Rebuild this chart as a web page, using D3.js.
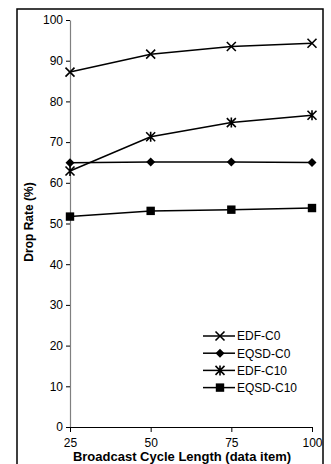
<!DOCTYPE html>
<html><head><meta charset="utf-8">
<script src="https://cdn.jsdelivr.net/npm/d3@7"></script>
<style>body{margin:0;background:#fff}svg{display:block}text{font-family:"Liberation Sans",Arial,sans-serif}</style>
</head><body>
<svg id="c" width="331" height="464"></svg>
<script>
const xValues = [25, 50, 75, 100];
const seriesNames = ["EDF-C0", "EQSD-C0", "EDF-C10", "EQSD-C10"];
const markerTypes = ["x", "diamond", "asterisk", "square"];
const edfC0 = [87.2, 91.6, 93.5, 94.3];
const eqsdC0 = [64.9, 65.1, 65.1, 65.0];
const edfC10 = [62.9, 71.3, 74.8, 76.6];
const eqsdC10 = [51.7, 53.1, 53.4, 53.8];
const yTicks = [0, 10, 20, 30, 40, 50, 60, 70, 80, 90, 100];
const xTitle = "Broadcast Cycle Length (data item)";
const yTitle = "Drop Rate (%)";

const series = [edfC0, eqsdC0, edfC10, eqsdC10].map((v, i) => ({name: seriesNames[i], marker: markerTypes[i], values: v}));

const svg = d3.select("#c");
// outer frame
svg.append("rect").attr("x", 17).attr("y", 9).attr("width", 306).attr("height", 470)
  .attr("fill", "none").attr("stroke", "#000").attr("stroke-width", 1.5);

const x = d3.scaleLinear().domain([25, 100]).range([70, 312]);
const y = d3.scaleLinear().domain([0, 100]).range([427, 20]);

const yAxis = svg.append("g").attr("transform", "translate(70,0)")
  .call(d3.axisLeft(y).tickValues(yTicks).tickSize(4).tickPadding(3).tickSizeOuter(0));
yAxis.select(".domain").attr("stroke", "#808080").attr("stroke-width", 1.2);
yAxis.selectAll(".tick line").attr("stroke", "#000");
yAxis.selectAll("text").attr("font-size", 12).attr("fill", "#000").style("font-family", '"Liberation Sans",Arial,sans-serif');

const xAxis = svg.append("g").attr("transform", "translate(0,427)")
  .call(d3.axisBottom(x).tickValues(xValues).tickSize(5).tickPadding(6).tickSizeOuter(0));
xAxis.select(".domain").attr("stroke", "#000").attr("stroke-width", 1.2);
xAxis.selectAll(".tick line").attr("stroke", "#000");
xAxis.selectAll("text").attr("font-size", 12).attr("fill", "#000").style("font-family", '"Liberation Sans",Arial,sans-serif');

svg.append("text").attr("x", 182).attr("y", 461).attr("text-anchor", "middle")
  .attr("font-size", 13).attr("font-weight", "bold").text(xTitle);
svg.append("text").attr("transform", "translate(33,222) rotate(-90)").attr("text-anchor", "middle")
  .attr("font-size", 12).attr("font-weight", "bold").text(yTitle);

function drawMarker(g, type, cx, cy) {
  if (type === "x") {
    g.append("path").attr("d", `M${cx-4.5},${cy-4.5}L${cx+4.5},${cy+4.5}M${cx-4.5},${cy+4.5}L${cx+4.5},${cy-4.5}`)
      .attr("stroke", "#000").attr("stroke-width", 1.6).attr("fill", "none");
  } else if (type === "asterisk") {
    g.append("path").attr("d", `M${cx-4.5},${cy-4.5}L${cx+4.5},${cy+4.5}M${cx-4.5},${cy+4.5}L${cx+4.5},${cy-4.5}M${cx},${cy-5}L${cx},${cy+5}`)
      .attr("stroke", "#000").attr("stroke-width", 1.6).attr("fill", "none");
  } else if (type === "diamond") {
    g.append("path").attr("d", `M${cx},${cy-4.5}L${cx+4.5},${cy}L${cx},${cy+4.5}L${cx-4.5},${cy}Z`).attr("fill", "#000");
  } else if (type === "square") {
    g.append("rect").attr("x", cx-4.2).attr("y", cy-4.2).attr("width", 8.4).attr("height", 8.4).attr("fill", "#000");
  }
}

const line = d3.line().x((d, i) => x(xValues[i])).y(d => y(d));
series.forEach(s => {
  const g = svg.append("g");
  g.append("path").attr("d", line(s.values)).attr("fill", "none").attr("stroke", "#000").attr("stroke-width", 1.5);
  s.values.forEach((v, i) => drawMarker(g, s.marker, x(xValues[i]), y(v)));
});

// legend
const legend = svg.append("g");
series.forEach((s, i) => {
  const cy = 336 + i * 17.2;
  legend.append("line").attr("x1", 203).attr("x2", 235).attr("y1", cy).attr("y2", cy).attr("stroke", "#000").attr("stroke-width", 1.5);
  drawMarker(legend, s.marker, 220, cy);
  legend.append("text").attr("x", 237).attr("y", cy + 4.3).attr("font-size", 12).text(s.name);
});
</script>
</body></html>
